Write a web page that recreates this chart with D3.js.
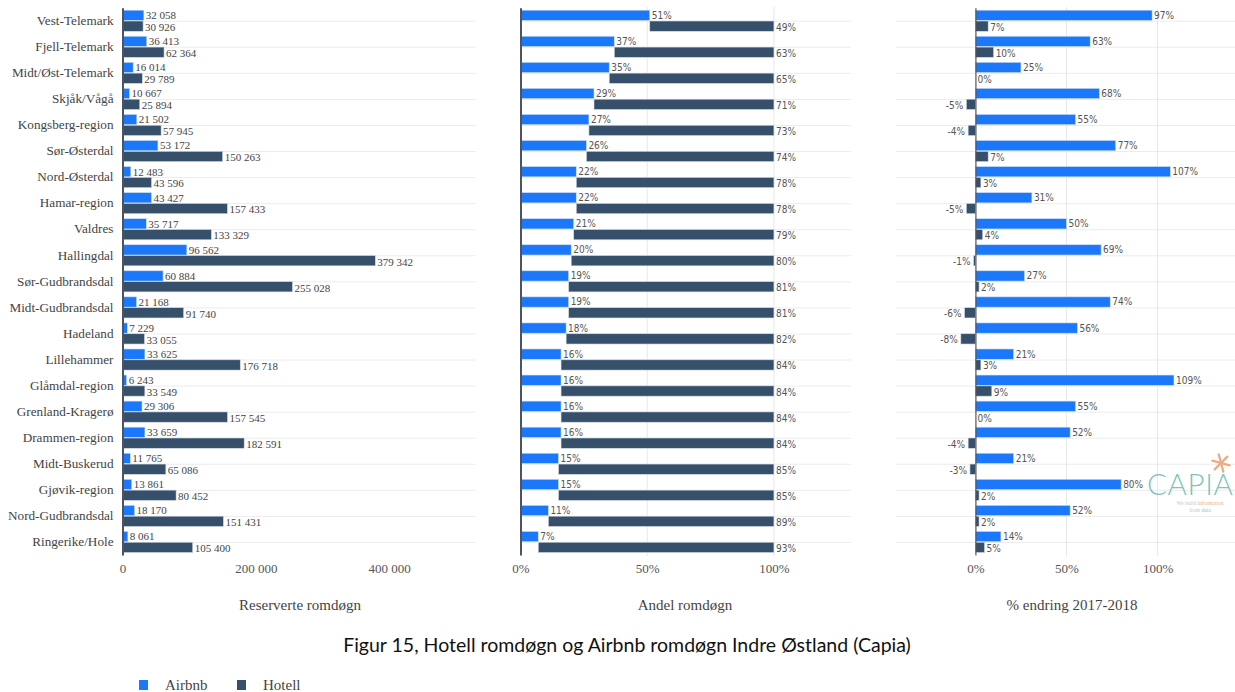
<!DOCTYPE html>
<html>
<head>
<meta charset="utf-8">
<script src="https://cdn.jsdelivr.net/npm/d3@7"></script>
<style>
  body { margin: 0; background: #fff; }
  svg { display: block; }
  .cat text { font-family: "Liberation Serif", serif; font-size: 13.2px; fill: #444; }
  .tick-x text { font-family: "Liberation Serif", serif; font-size: 13px; fill: #555; }
  .vlab { font-family: "Liberation Serif", serif; font-size: 11px; fill: #444; }
  .plab { font-family: "DejaVu Sans Condensed", "Liberation Sans", sans-serif; font-size: 10px; fill: #555; }
  .axis-title { font-family: "Liberation Serif", serif; font-size: 15px; fill: #444; }
</style>
</head>
<body>
<div id="chart"></div>
<script>
// Data
const regions = ['Vest-Telemark', 'Fjell-Telemark', 'Midt/Øst-Telemark', 'Skjåk/Vågå', 'Kongsberg-region',
  'Sør-Østerdal', 'Nord-Østerdal', 'Hamar-region', 'Valdres', 'Hallingdal', 'Sør-Gudbrandsdal',
  'Midt-Gudbrandsdal', 'Hadeland', 'Lillehammer', 'Glåmdal-region', 'Grenland-Kragerø',
  'Drammen-region', 'Midt-Buskerud', 'Gjøvik-region', 'Nord-Gudbrandsdal', 'Ringerike/Hole'];
const series = ['Airbnb', 'Hotell'];

const airbnbNights = [32058, 36413, 16014, 10667, 21502, 53172, 12483, 43427, 35717, 96562, 60884,
  21168, 7229, 33625, 6243, 29306, 33659, 11765, 13861, 18170, 8061];
const hotellNights = [30926, 62364, 29789, 25894, 57945, 150263, 43596, 157433, 133329, 379342, 255028,
  91740, 33055, 176718, 33549, 157545, 182591, 65086, 80452, 151431, 105400];

const airbnbShare = [51, 37, 35, 29, 27, 26, 22, 22, 21, 20, 19, 19, 18, 16, 16, 16, 16, 15, 15, 11, 7];
const hotellShare = [49, 63, 65, 71, 73, 74, 78, 78, 79, 80, 81, 81, 82, 84, 84, 84, 84, 85, 85, 89, 93];

const airbnbChange = [97, 63, 25, 68, 55, 77, 107, 31, 50, 69, 27, 74, 56, 21, 109, 55, 52, 21, 80, 52, 14];
const hotellChange = [7, 10, 0, -5, -4, 7, 3, -5, 4, -1, 2, -6, -8, 3, 9, 0, -4, -3, 2, 2, 5];

const nightTicks = [0, 200000, 400000];
const pctTicks = [0, 50, 100];

const colors = { Airbnb: '#1c78fb', Hotell: '#36506c' };

const W = 1235, H = 692;
const svg = d3.select('#chart').append('svg').attr('width', W).attr('height', H);

const y = d3.scaleBand().domain(regions).range([7.7, 555]).paddingInner(0.19).paddingOuter(0.095);
const ySub = d3.scaleBand().domain(series).range([0, y.bandwidth()]).paddingInner(0.05);

const nf = d3.formatLocale({ decimal: ',', thousands: ' ', grouping: [3], currency: ['', ''] }).format(',');

// Panel definitions
const panels = [
  {
    x: d3.scaleLinear().domain([0, 530000]).range([122.5, 475.7]),
    a: airbnbNights, h: hotellNights, ticks: nightTicks, tickFmt: nf, title: 'Reserverte romdøgn',
    titleX: 300, labFmt: nf, cls: 'vlab', vgrid: false, stack: false
  },
  {
    x: d3.scaleLinear().domain([0, 130.4]).range([520.5, 851]),
    a: airbnbShare, h: hotellShare, ticks: pctTicks, tickFmt: d => d + '%', title: 'Andel romdøgn',
    titleX: 685, labFmt: d => d + '%', cls: 'plab', vgrid: true, stack: true
  },
  {
    x: d3.scaleLinear().domain([-43.6, 142.5]).range([896, 1235]),
    a: airbnbChange, h: hotellChange, ticks: pctTicks, tickFmt: d => d + '%', title: '% endring 2017-2018',
    titleX: 1072, labFmt: d => d + '%', cls: 'plab', vgrid: true, stack: false
  }
];

panels.forEach((p, pi) => {
  const g = svg.append('g');
  const x = p.x;
  const [x0, x1] = x.range();

  // horizontal gridlines
  g.selectAll('.hgrid').data(regions).enter().append('line')
    .attr('x1', x0).attr('x2', x1)
    .attr('y1', d => y(d) + y.bandwidth() / 2 + 0.5)
    .attr('y2', d => y(d) + y.bandwidth() / 2 + 0.5)
    .attr('stroke', '#ececec').attr('stroke-width', 1);

  // vertical gridlines
  if (p.vgrid) {
    g.selectAll('.vgrid').data(p.ticks.filter(t => t !== 0)).enter().append('line')
      .attr('x1', d => x(d)).attr('x2', d => x(d))
      .attr('y1', 7).attr('y2', 556)
      .attr('stroke', '#e8e8e8').attr('stroke-width', 1);
  }

  // x axis tick labels
  const xa = g.append('g').attr('class', 'tick-x')
    .attr('transform', 'translate(0,556)')
    .call(d3.axisBottom(x).tickValues(p.ticks).tickFormat(p.tickFmt).tickSize(0).tickPadding(8));
  xa.select('.domain').remove();

  const rows = regions.map((r, i) => ({ r, a: p.a[i], h: p.h[i] }));

  // Airbnb bars
  g.selectAll('.ba').data(rows).enter().append('rect')
    .attr('x', d => Math.min(x(0), x(d.a)))
    .attr('y', d => y(d.r) + ySub('Airbnb'))
    .attr('width', d => Math.abs(x(d.a) - x(0)))
    .attr('height', ySub.bandwidth())
    .attr('fill', colors.Airbnb).attr('stroke', '#cfdcf0').attr('stroke-width', 0.6);

  // Hotell bars
  g.selectAll('.bh').data(rows).enter().append('rect')
    .attr('x', d => p.stack ? x(d.a) : Math.min(x(0), x(d.h)))
    .attr('y', d => y(d.r) + ySub('Hotell'))
    .attr('width', d => p.stack ? x(d.a + d.h) - x(d.a) : Math.abs(x(d.h) - x(0)))
    .attr('height', ySub.bandwidth())
    .attr('fill', colors.Hotell).attr('stroke', '#d5dbe2').attr('stroke-width', 0.6);

  // labels
  const labEnd = (v) => v < 0 ? x(v) - 3 : x(v) + 2;
  g.selectAll('.la').data(rows).enter().append('text')
    .attr('class', p.cls)
    .attr('x', d => labEnd(d.a))
    .attr('y', d => y(d.r) + ySub('Airbnb') + ySub.bandwidth() / 2)
    .attr('dy', '0.35em')
    .attr('text-anchor', d => d.a < 0 ? 'end' : 'start')
    .text(d => p.labFmt(d.a));

  g.selectAll('.lh').data(rows).enter().append('text')
    .attr('class', p.cls)
    .attr('x', d => p.stack ? x(d.a + d.h) + 2 : labEnd(d.h))
    .attr('y', d => y(d.r) + ySub('Hotell') + ySub.bandwidth() / 2 + 1)
    .attr('dy', '0.35em')
    .attr('text-anchor', d => (!p.stack && d.h < 0) ? 'end' : 'start')
    .text(d => p.labFmt(d.h));

  // y axis line (and category names for the first panel)
  const ya = g.append('g').attr('class', 'cat')
    .attr('transform', `translate(${x(0)},0)`)
    .call(d3.axisLeft(y).tickSize(0).tickPadding(9).tickFormat(pi === 0 ? (d => d) : () => ''));
  ya.select('.domain').attr('stroke', pi === 2 ? '#555' : '#4a5561').attr('stroke-width', pi === 2 ? 1.2 : 2);

  // axis title
  svg.append('text').attr('class', 'axis-title')
    .attr('x', p.titleX).attr('y', 610)
    .attr('text-anchor', 'middle')
    .text(p.title);
});

// CAPIA logo
const logo = svg.append('g');
logo.append('text').attr('x', 1147).attr('y', 495)
  .attr('font-family', 'Lato, sans-serif').attr('font-weight', 300)
  .attr('font-size', 29.5).attr('letter-spacing', 0.6).attr('fill', '#7ec3bd').text('CAPIA');
const star = d3.range(6).map(i => i * 60 + 15);
logo.selectAll('.ray').data(star).enter().append('line')
  .attr('x1', 1221).attr('y1', 463)
  .attr('x2', d => 1221 + 9 * Math.cos(d * Math.PI / 180))
  .attr('y2', d => 463 + 9 * Math.sin(d * Math.PI / 180))
  .attr('stroke', '#eea983').attr('stroke-width', 2.2).attr('stroke-linecap', 'round');
logo.append('text').attr('x', 1200).attr('y', 505).attr('text-anchor', 'middle')
  .attr('font-family', 'Liberation Serif, serif').attr('font-size', 5.5).attr('fill', '#c8c8c8')
  .html('We build <tspan fill="#f0b08c">information</tspan>');
logo.append('text').attr('x', 1200).attr('y', 512).attr('text-anchor', 'middle')
  .attr('font-family', 'Liberation Serif, serif').attr('font-size', 5.5).attr('fill', '#c8c8c8')
  .html('from <tspan fill="#8cc8c2">data</tspan>');

// Caption
svg.append('text').attr('x', 627).attr('y', 652).attr('text-anchor', 'middle')
  .attr('font-family', 'Lato, "Open Sans", sans-serif').attr('font-size', 19.5).attr('fill', '#111')
  .text('Figur 15, Hotell romdøgn og Airbnb romdøgn Indre Østland (Capia)');

// Legend
const legend = svg.append('g').attr('transform', 'translate(139,680)');
series.forEach((s, i) => {
  const lg = legend.append('g').attr('transform', `translate(${i * 98},0)`);
  lg.append('rect').attr('width', 9).attr('height', 10).attr('fill', colors[s]);
  lg.append('text').attr('x', 26).attr('y', 9.5)
    .attr('font-family', 'Liberation Serif, serif').attr('font-size', 15).attr('fill', '#444')
    .text(s);
});
</script>
</body>
</html>
